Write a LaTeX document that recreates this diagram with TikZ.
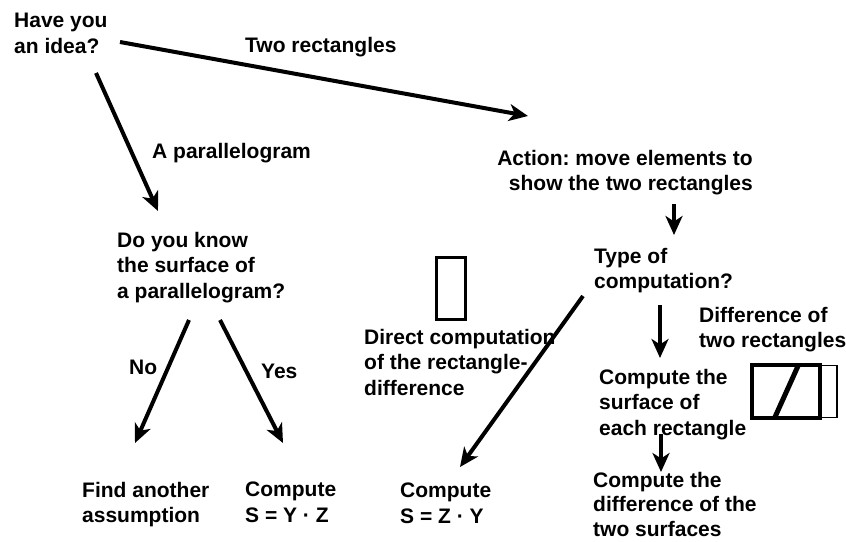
\documentclass[tikz,border=0pt]{standalone}
\usepackage{fontspec}
\setmainfont{Liberation Sans}
\usetikzlibrary{arrows.meta}
\frenchspacing
\begin{document}
\begin{tikzpicture}[x=1pt,y=-1pt,
  txt/.style={font=\fontsize{21}{25.5}\selectfont\bfseries, inner sep=0pt, align=left, anchor=north west},
  arr/.style={line width=4pt, -{Stealth[length=19pt,width=17pt,inset=5.5pt]}},
  icon/.style={draw, line join=miter}]
\useasboundingbox (0,0) rectangle (846,541);
% texts
\node[txt] (idea) at (14,13) {Have you\\an idea?};
\node[txt] (tworect) at (245,37) {Two rectangles};
\node[txt] (para) at (152,143) {A parallelogram};
\node[txt, anchor=north east, align=right] (action) at (753,150) {Action: move elements to\\show the two rectangles};
\node[txt] (know) at (117,232) {Do you know\\the surface of\\a parallelogram?};
\node[txt] (type) at (594,248) {Type of\\computation?};
\node[txt] (direct) at (364,329) {Direct computation\\of the rectangle-\\difference};
\node[txt] (diffrect) at (699,307) {Difference of\\two rectangles};
\node[txt] (no) at (129,360) {No};
\node[txt] (yes) at (261,364) {Yes};
\node[txt] (each) at (599,369) {Compute the\\surface of\\each rectangle};
\node[txt] (find) at (82,482) {Find another\\assumption};
\node[txt] (syz) at (245,482) {Compute\\S = Y · Z};
\node[txt] (szy) at (400,483) {Compute\\S = Z · Y};
\node[txt, font=\fontsize{21}{24.5}\selectfont\bfseries] (diffsurf) at (593,472) {Compute the\\difference of the\\two surfaces};
% arrow end points
\coordinate (a1s) at (120,42);  \coordinate (a1e) at (528,116);
\coordinate (a2s) at (96,73);   \coordinate (a2e) at (158,211);
\coordinate (a3s) at (674,204); \coordinate (a3e) at (674,235);
\coordinate (a4s) at (189,320); \coordinate (a4e) at (135,443);
\coordinate (a5s) at (220,320); \coordinate (a5e) at (283,443);
\coordinate (a6s) at (583,296); \coordinate (a6e) at (460,467);
\coordinate (a7s) at (660,305); \coordinate (a7e) at (660,358);
\coordinate (a8s) at (661,434); \coordinate (a8e) at (661,472);
\draw[arr] (a1s) -- (a1e);
\draw[arr] (a2s) -- (a2e);
\draw[arr] (a3s) -- (a3e);
\draw[arr] (a4s) -- (a4e);
\draw[arr] (a5s) -- (a5e);
\draw[arr] (a6s) -- (a6e);
\draw[arr] (a7s) -- (a7e);
\draw[arr] (a8s) -- (a8e);
% icons
\draw[icon, line width=3pt] (436.5,257.5) rectangle (465.5,319.5);
\draw[icon, line width=1.8pt] (820,365.5) rectangle (837,417.5);
\draw[icon, line width=4.5pt] (752,365) rectangle (820,418);
\draw[line width=5pt] (798,366) -- (775,417);
\end{tikzpicture}
\end{document}
